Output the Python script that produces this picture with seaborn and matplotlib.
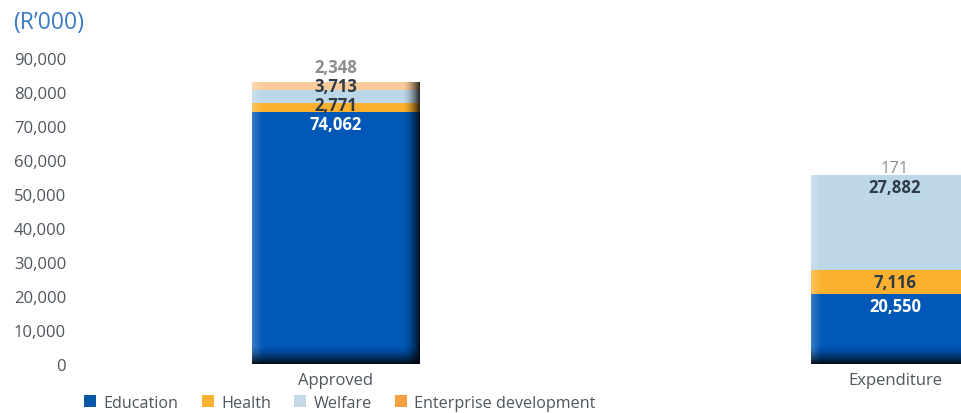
import numpy as np
import pandas as pd
import seaborn as sns
import matplotlib
matplotlib.use("Agg")
import matplotlib.pyplot as plt
from matplotlib.patches import Patch

# ---- data ----
categories = ["Approved", "Expenditure"]
series_names = ["Education", "Health", "Welfare", "Enterprise development"]
education = [74062, 20550]
health = [2771, 7116]
welfare = [3713, 27882]
enterprise = [2348, 171]
yticks = [0, 10000, 20000, 30000, 40000, 50000, 60000, 70000, 80000, 90000]
unit_label = "(R\u2019000)"

series_values = [education, health, welfare, enterprise]
bar_colors = ["#0158B6", "#FBB12D", "#BCD7E8", "#FCCB9B"]
legend_colors = ["#0A57A8", "#F8B030", "#C4D9E6", "#F4A043"]
label_colors = ["#FFFFFF", "#2E3A46", "#2E3A46", "#8C8C8C"]

sns.set_theme(style="white")
plt.rcParams["font.family"] = ["Open Sans", "DejaVu Sans"]

fig = plt.figure(figsize=(9.62, 4.14), dpi=100)
ax = fig.add_axes([80 / 962, 49 / 414, 882 / 962, 306 / 414])

bar_w = 0.30
cum = np.cumsum(np.array(series_values, dtype=float), axis=0)
for i in range(len(series_names) - 1, -1, -1):
    sns.barplot(x=categories, y=cum[i], color=bar_colors[i], width=bar_w,
                saturation=1, ax=ax, zorder=2, linewidth=0, edgecolor="none")

ymax = 90000
xlim = (-0.458, 1.12)
px_per_unit = 306 / ymax

# shading overlays (light left edge, dark right and bottom edges)
for j, cat in enumerate(categories):
    total = cum[-1, j]
    H, W = 300, 168
    xs = np.linspace(0, 1, W)
    ys = np.linspace(1, 0, H)  # top row -> top of bar
    bar_px_h = total * px_per_unit
    bottom_frac = min(18 / bar_px_h, 0.5)
    right = np.clip((xs - 0.90) / 0.10, 0, 1) ** 1.6 * 0.8
    bottom = np.clip((bottom_frac - ys) / bottom_frac, 0, 1) ** 1.5 * 0.85
    A = 1 - (1 - right[None, :]) * (1 - bottom[:, None])
    dark = np.zeros((H, W, 4))
    dark[..., 3] = A
    left = np.clip((0.06 - xs) / 0.06, 0, 1) * 0.22
    light = np.ones((H, W, 4))
    light[..., 3] = np.tile(left, (H, 1))
    ext = (j - bar_w / 2, j + bar_w / 2, 0, total)
    ax.imshow(light, extent=ext, aspect="auto", zorder=3, interpolation="bilinear")
    ax.imshow(dark, extent=ext, aspect="auto", zorder=3, interpolation="bilinear")

    # value labels
    off = 12 / px_per_unit
    gap = 19 / px_per_unit
    prev = None
    for i in range(len(series_names)):
        top = cum[i, j]
        y = top - off
        if prev is not None:
            y = max(y, prev + gap)
        prev = y
        val = series_values[i][j]
        above = y > total
        weight = "normal" if (above and i == len(series_names) - 1 and val < 1000) else "bold"
        ax.text(j, y, f"{val:,}", ha="center", va="center", fontsize=12,
                color=label_colors[i], fontweight=weight, zorder=5)

ax.set_xlim(*xlim)
ax.set_ylim(0, ymax)
ax.set_yticks(yticks)
ax.set_yticklabels([f"{t:,}" for t in yticks])
ax.tick_params(axis="y", length=0, pad=10, labelsize=12, labelcolor="#50565E")
ax.tick_params(axis="x", length=0, pad=6, labelsize=12, labelcolor="#50565E")
for s in ax.spines.values():
    s.set_visible(False)
ax.grid(False)
ax.set_xlabel("")
ax.set_ylabel("")

fig.text(13 / 962, 1 - 23 / 414, unit_label, ha="left", va="center",
         fontsize=16.5, color="#3A7CC4")

handles = [Patch(facecolor=c, edgecolor="none") for c in legend_colors]
fig.legend(handles, series_names, loc="center left",
           bbox_to_anchor=(84 / 962, 1 - 404 / 414), ncol=4, frameon=False,
           fontsize=11.6, handlelength=0.75, handleheight=0.75, handletextpad=0.45,
           columnspacing=1.45, labelcolor="#50565E", borderaxespad=0, borderpad=0)

fig.savefig("out.png", dpi=100)
